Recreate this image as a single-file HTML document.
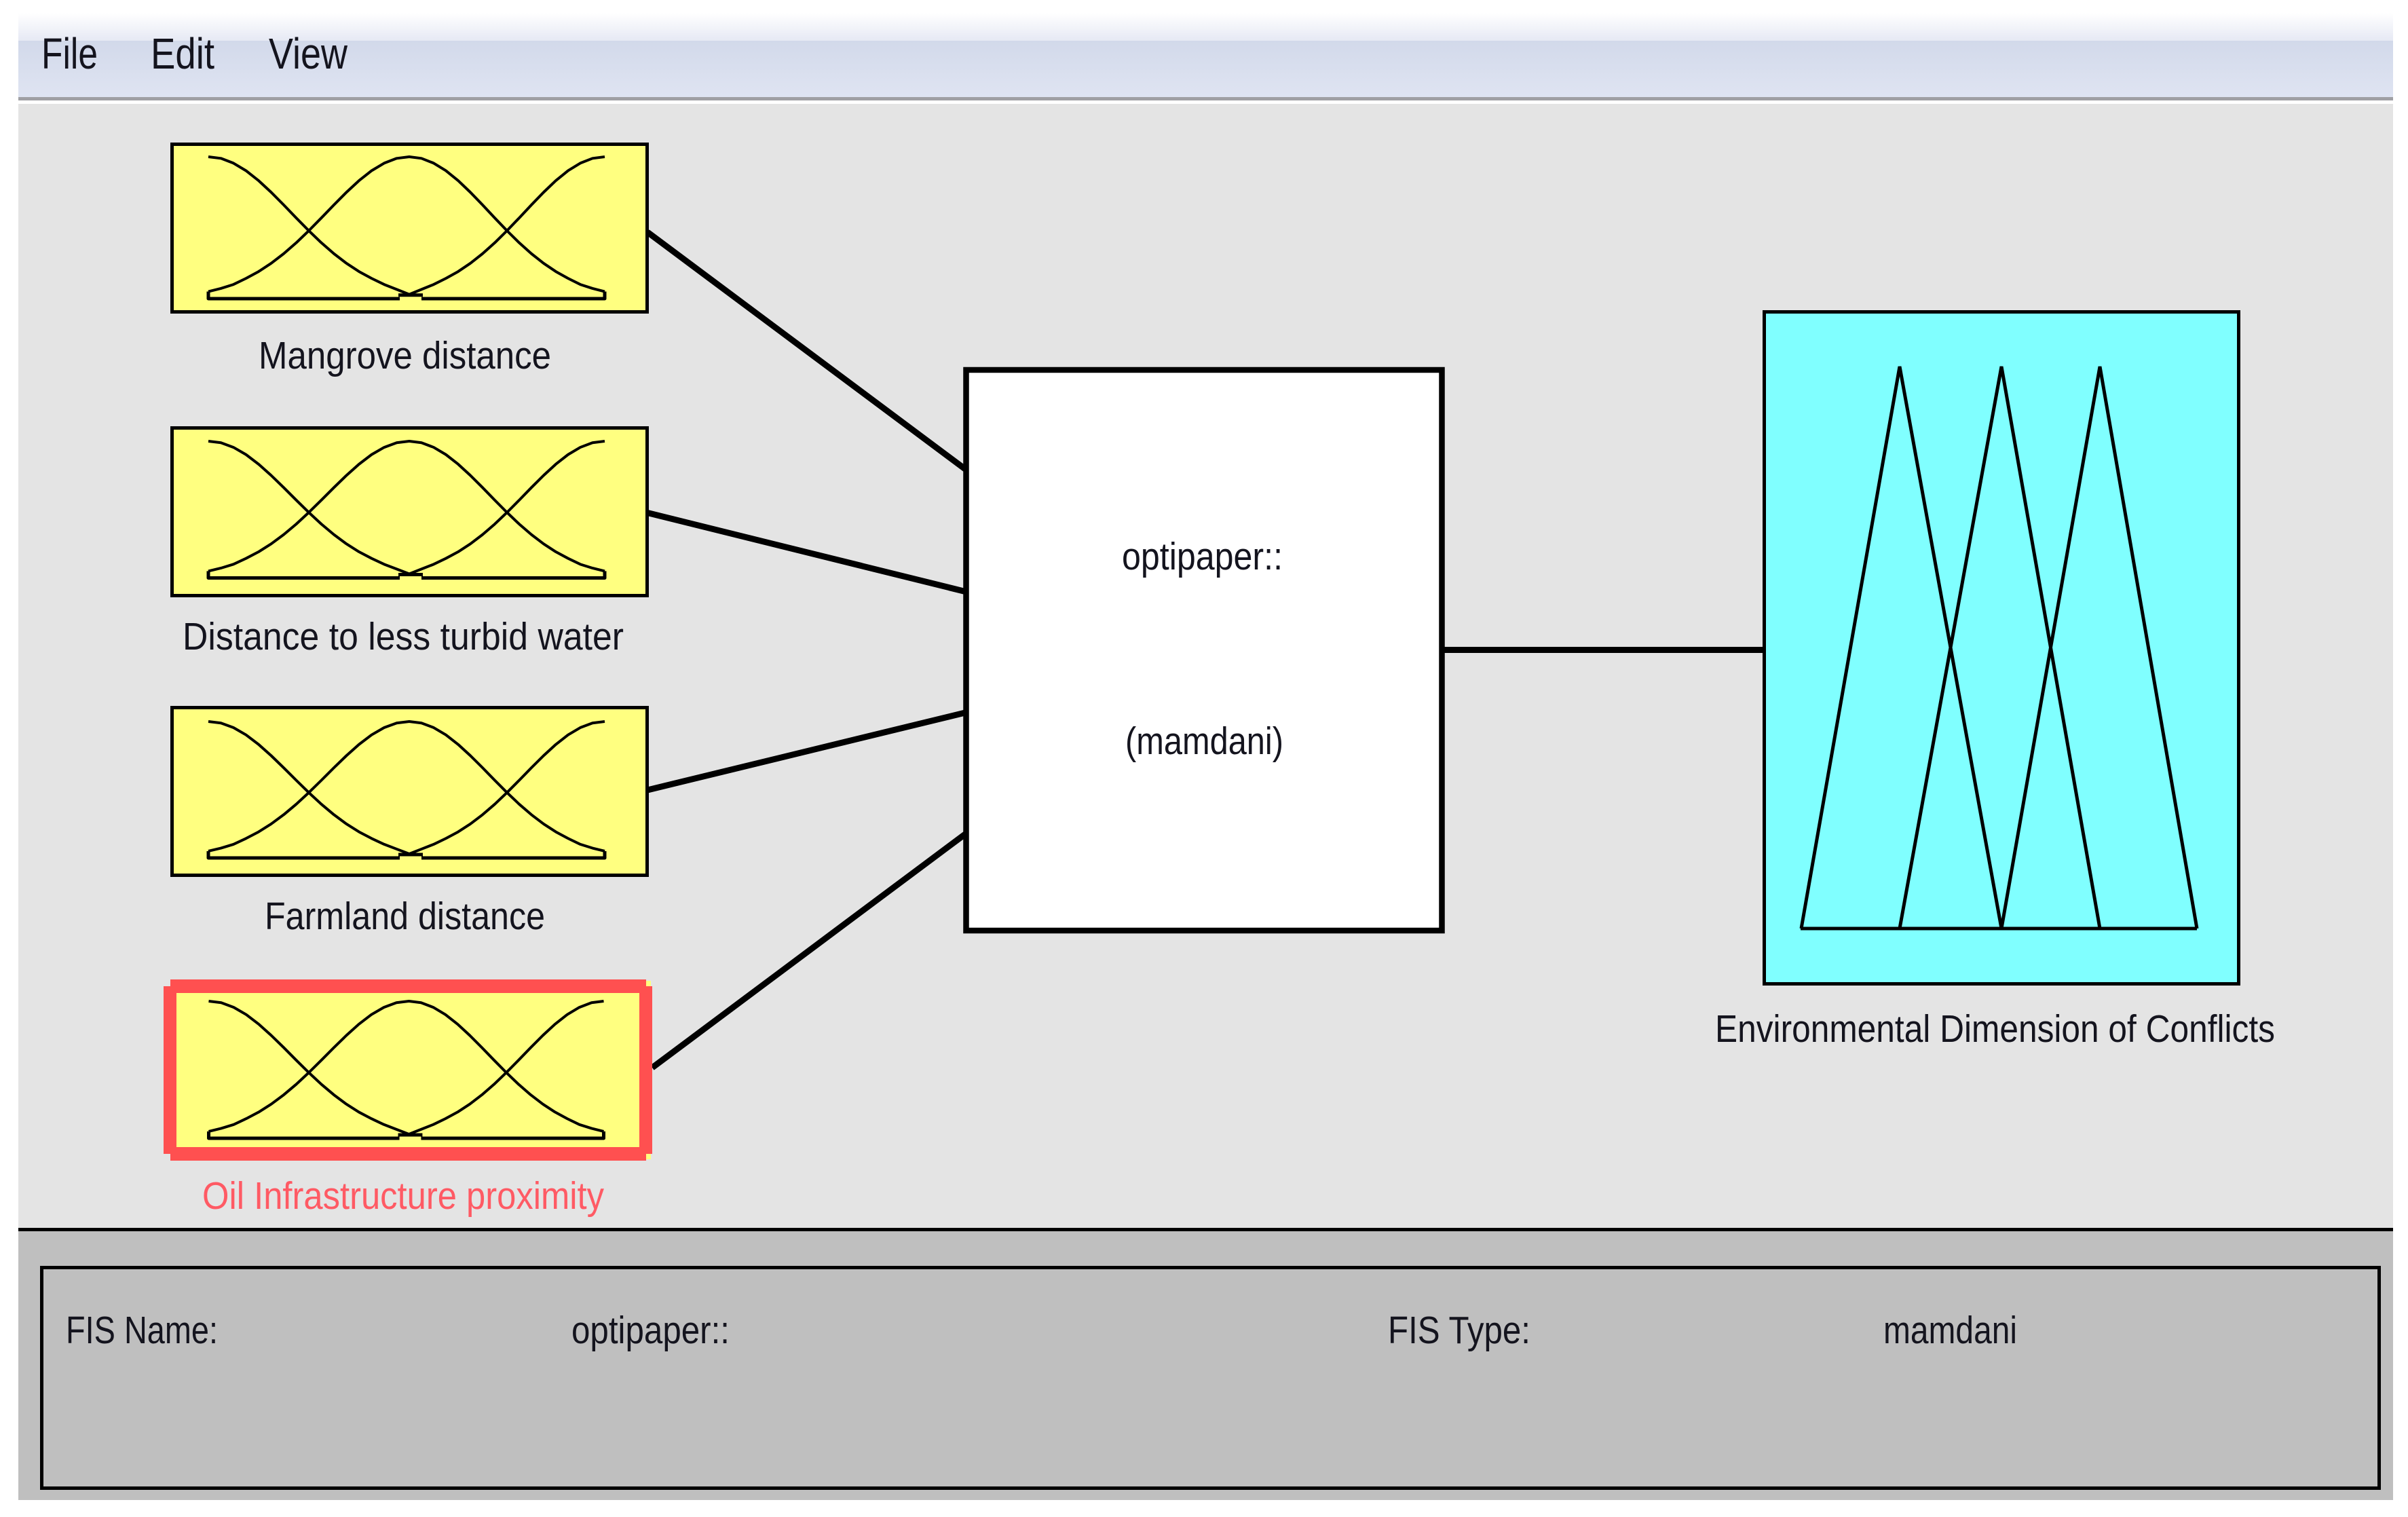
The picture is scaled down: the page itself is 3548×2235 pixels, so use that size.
<!DOCTYPE html>
<html>
<head>
<meta charset="utf-8">
<style>
html,body{margin:0;padding:0;background:#fff;width:3548px;height:2235px;overflow:hidden}
svg{display:block}
text{font-family:"Liberation Sans",Arial,sans-serif;font-size:57px;fill:#14141e}
</style>
</head>
<body>
<svg xmlns="http://www.w3.org/2000/svg" width="3548" height="2235" viewBox="0 0 3548 2235">
<defs>
<linearGradient id="top" x1="0" y1="0" x2="0" y2="1">
<stop offset="0" stop-color="#ffffff"/><stop offset="1" stop-color="#e6e9f4"/>
</linearGradient>
<linearGradient id="menu" x1="0" y1="0" x2="0" y2="1">
<stop offset="0" stop-color="#d2d9ea"/><stop offset="1" stop-color="#dfe4f2"/>
</linearGradient>
<g id="gauss" fill="none" stroke="#000" stroke-linejoin="round">
<path vector-effect="non-scaling-stroke" stroke-width="4" d="M0,-1000 L18.500,-989 37,-955 55.500,-902 74,-832 92.500,-750 111,-661 129.500,-569 148,-479 166.500,-394 185,-317 203.500,-249 222,-191 240.500,-143 259,-100 277.500,-65 296,-30"/>
<path vector-effect="non-scaling-stroke" stroke-width="4" d="M0,-50 L18.500,-72 37,-100 55.500,-143 74,-191 92.500,-249 111,-317 129.500,-394 148,-479 166.500,-569 185,-661 203.500,-750 222,-832 240.500,-902 259,-955 277.500,-989 296,-1000 314,-989 332,-955 350,-902 368,-832 386,-750 404,-661 422,-569 440,-479 458,-394 476,-317 494,-249 512,-191 530,-143 548,-100 566,-72 584,-50"/>
<path vector-effect="non-scaling-stroke" stroke-width="4" d="M296,-30 L314,-65 332,-100 350,-143 368,-191 386,-249 404,-317 422,-394 440,-479 458,-569 476,-661 494,-750 512,-832 530,-902 548,-955 566,-989 584,-1000"/>
<path vector-effect="non-scaling-stroke" stroke-width="5" d="M0,-50 L0,0 L282,0 M314,0 L584,0 L584,-50 M280,-25 L316,-25"/>
</g>
</defs>

<!-- window chrome -->
<rect x="27" y="19" width="3499" height="41" fill="url(#top)"/>
<rect x="27" y="60" width="3499" height="83" fill="url(#menu)"/>
<rect x="27" y="143" width="3499" height="5" fill="#a0a0a4"/>
<rect x="27" y="153" width="3499" height="1656" fill="#e4e4e4"/>
<rect x="27" y="1809" width="3499" height="401" fill="#bfbfbf"/>
<rect x="27" y="1809" width="3499" height="5" fill="#000"/>
<rect x="61.500" y="1867.500" width="3444" height="325" fill="#bfbfbf" stroke="#000" stroke-width="5"/>

<text x="61" y="101" style="font-size:64px" textLength="83" lengthAdjust="spacingAndGlyphs">File</text>
<text x="222" y="101" style="font-size:64px" textLength="94" lengthAdjust="spacingAndGlyphs">Edit</text>
<text x="396" y="101" style="font-size:64px" textLength="116" lengthAdjust="spacingAndGlyphs">View</text>

<!-- connectors -->
<g stroke="#000" stroke-width="9" fill="none">
<line x1="954" y1="342" x2="1422" y2="691"/>
<line x1="954" y1="755.500" x2="1422" y2="871.500"/>
<line x1="954" y1="1164" x2="1422" y2="1050"/>
<line x1="961" y1="1573" x2="1422" y2="1229"/>
<line x1="2126" y1="957.500" x2="2599" y2="957.500"/>
</g>

<!-- input boxes -->
<rect x="253.500" y="212.500" width="700" height="247" fill="#ffff80" stroke="#000" stroke-width="5"/>
<use href="#gauss" transform="translate(307,440) scale(1,0.209)"/>
<text x="381" y="543" textLength="431" lengthAdjust="spacingAndGlyphs">Mangrove distance</text>

<rect x="253.500" y="630.500" width="700" height="247" fill="#ffff80" stroke="#000" stroke-width="5"/>
<use href="#gauss" transform="translate(307,851.500) scale(1,0.2015)"/>
<text x="269" y="957" textLength="650" lengthAdjust="spacingAndGlyphs">Distance to less turbid water</text>

<rect x="253.500" y="1042.500" width="700" height="247" fill="#ffff80" stroke="#000" stroke-width="5"/>
<use href="#gauss" transform="translate(307,1264) scale(1,0.201)"/>
<text x="390" y="1369" textLength="413" lengthAdjust="spacingAndGlyphs">Farmland distance</text>

<!-- selected input -->
<rect x="952" y="1445" width="7" height="8" fill="#ffff80"/>
<rect x="952" y="1700" width="7" height="8" fill="#ffff80"/>
<rect x="251" y="1443" width="701" height="267" fill="#ff5050"/>
<rect x="241" y="1453" width="720" height="247" fill="#ff5050"/>
<rect x="260" y="1463" width="682" height="227" fill="#ffff80"/>
<use href="#gauss" transform="translate(307.500,1677) scale(0.9966,0.202)"/>
<text x="298" y="1781" textLength="592" lengthAdjust="spacingAndGlyphs" style="fill:#ff5a64">Oil Infrastructure proximity</text>

<!-- rule block -->
<rect x="1423.500" y="545" width="701" height="826" fill="#fff" stroke="#000" stroke-width="8.500"/>
<text x="1653" y="839" textLength="237" lengthAdjust="spacingAndGlyphs">optipaper::</text>
<text x="1658" y="1111" textLength="233" lengthAdjust="spacingAndGlyphs">(mamdani)</text>

<!-- output box -->
<rect x="2599.500" y="459.500" width="699" height="990" fill="#80ffff" stroke="#000" stroke-width="5"/>
<g fill="none" stroke="#000" stroke-width="5">
<path d="M2654,1368 L2799,540 L2949,1368"/>
<path d="M2799,1368 L2949,540 L3094,1368"/>
<path d="M2949,1368 L3094,540 L3237,1368"/>
<path d="M2653,1368 L3237,1368"/>
</g>
<text x="2527" y="1535" textLength="825" lengthAdjust="spacingAndGlyphs">Environmental Dimension of Conflicts</text>

<!-- status panel text -->
<text x="97" y="1979" textLength="224" lengthAdjust="spacingAndGlyphs">FIS Name:</text>
<text x="842" y="1979" textLength="233" lengthAdjust="spacingAndGlyphs">optipaper::</text>
<text x="2045" y="1979" textLength="210" lengthAdjust="spacingAndGlyphs">FIS Type:</text>
<text x="2775" y="1979" textLength="197" lengthAdjust="spacingAndGlyphs">mamdani</text>
</svg>
</body>
</html>
